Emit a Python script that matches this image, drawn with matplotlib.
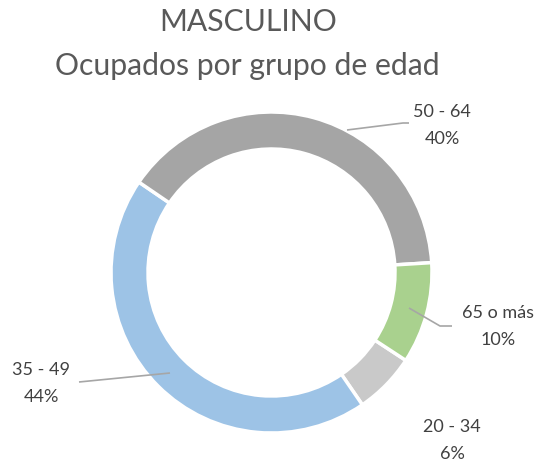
import matplotlib
matplotlib.use("Agg")
import matplotlib.pyplot as plt
import numpy as np

categories = ["20 - 34", "35 - 49", "50 - 64", "65 o más"]
values = [6.2, 44.1, 39.5, 10.2]
colors = ["#C9C9C9", "#9DC3E6", "#A5A5A5", "#A9D18E"]
title_lines = ["MASCULINO", "Ocupados por grupo de edad"]

W, H = 541, 461
fig = plt.figure(figsize=(W / 100, H / 100), dpi=100)
ax = fig.add_axes([0, 0, 1, 1])
ax.set_xlim(0, W)
ax.set_ylim(0, H)
ax.set_aspect("equal")
ax.axis("off")

plt.rcParams["font.family"] = ["Lato", "DejaVu Sans"]

def py(y):
    return H - y

cx, cy, R = 271.5, 272.5, 160.5
wedges, _ = ax.pie(values, colors=colors, startangle=-33.2, counterclock=False,
                   center=(cx, py(cy)), radius=R,
                   wedgeprops=dict(width=37, edgecolor="white", linewidth=2.5))
ax.set_xlim(0, W)
ax.set_ylim(0, H)

pct = [f"{round(v):.0f}%" for v in values]

# label positions (pixels): (x, y of first line)
label_pos = {
    "20 - 34": (452, 427),
    "35 - 49": (41, 370),
    "50 - 64": (442, 112),
    "65 o más": (498, 313),
}
leaders = {
    "35 - 49": [(170, 373), (79, 382)],
    "50 - 64": [(347, 130), (403, 123), (409, 123)],
    "65 o más": [(409, 308), (440, 326), (452, 326)],
}
tc = "#404040"
for cat, p in zip(categories, pct):
    x, y = label_pos[cat]
    ax.text(x, py(y), cat, ha="center", va="center", fontsize=13, color=tc)
    ax.text(x, py(y + 27), p, ha="center", va="center", fontsize=13, color=tc)
    if cat in leaders:
        pts = leaders[cat]
        ax.plot([q[0] for q in pts], [py(q[1]) for q in pts], color="#A6A6A6", lw=1.2,
                solid_capstyle="butt")

ax.text(248.5, py(22), title_lines[0], ha="center", va="center", fontsize=21.7, color="#595959")
ax.text(247.5, py(66), title_lines[1], ha="center", va="center", fontsize=21.7, color="#595959")

fig.savefig("out.png", dpi=100)
